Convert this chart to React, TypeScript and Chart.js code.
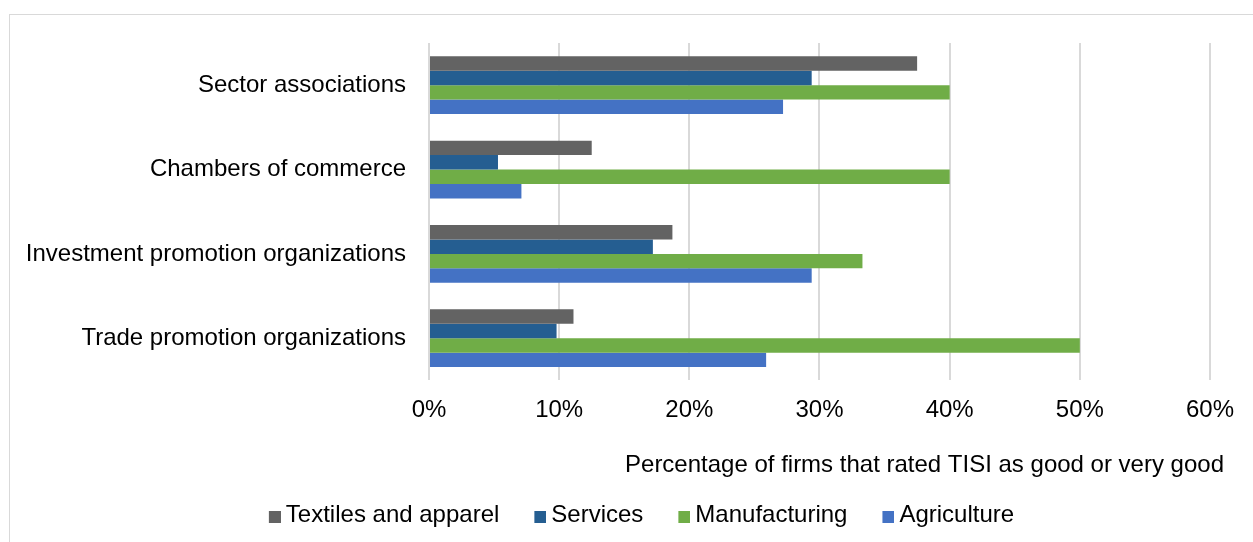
import React, { useEffect, useRef } from "react";
import { Chart, registerables } from "chart.js";

Chart.register(...registerables);

const categories = [
  "Sector associations",
  "Chambers of commerce",
  "Investment promotion organizations",
  "Trade promotion organizations",
];
const seriesNames = ["Textiles and apparel", "Services", "Manufacturing", "Agriculture"];
const textiles = [0.375, 0.125, 0.187, 0.111];
const services = [0.294, 0.053, 0.172, 0.098];
const manufacturing = [0.4, 0.4, 0.333, 0.5];
const agriculture = [0.272, 0.071, 0.294, 0.259];
const seriesColors = ["#636363", "#255e91", "#70ad47", "#4472c4"];
const xAxisTitle = "Percentage of firms that rated TISI as good or very good";
const xMin = 0;
const xMaxTick = 0.6;
const xStep = 0.1;

const FONT = "'Liberation Sans', Arial, sans-serif";

function makeSwatch(color: string): HTMLCanvasElement {
  const c = document.createElement("canvas");
  c.width = 15;
  c.height = 16;
  const ctx = c.getContext("2d");
  if (ctx) {
    ctx.fillStyle = color;
    ctx.fillRect(3, 4, 12, 12);
  }
  return c;
}

const legendShift = {
  id: "legendShift",
  afterLayout(chart: any) {
    const lg = chart.legend;
    if (lg) {
      lg.left += 19;
      lg.right += 19;
    }
  },
};

export default function App() {
  const ref = useRef<HTMLCanvasElement | null>(null);

  useEffect(() => {
    if (!ref.current) return;
    const values = [textiles, services, manufacturing, agriculture];
    const swatches = seriesColors.map(makeSwatch);
    const chart = new Chart(ref.current, {
      type: "bar",
      data: {
        labels: categories,
        datasets: seriesNames.map((name, i) => ({
          label: name,
          data: values[i],
          backgroundColor: seriesColors[i],
          borderWidth: 0,
          categoryPercentage: 0.685,
          barPercentage: 1,
        })),
      },
      plugins: [legendShift],
      options: {
        indexAxis: "y",
        responsive: false,
        animation: false,
        layout: { padding: { top: 43, left: 25, right: 29, bottom: 5 } },
        plugins: {
          tooltip: { enabled: false },
          legend: {
            position: "bottom",
            align: "center",
            labels: {
              usePointStyle: true,
              pointStyleWidth: 1,
              boxHeight: 12,
              padding: 39,
              color: "#000",
              font: { family: FONT, size: 24 },
              generateLabels: (ch: any) =>
                ch.data.datasets.map((ds: any, i: number) => ({
                  text: ds.label,
                  fillStyle: seriesColors[i],
                  strokeStyle: seriesColors[i],
                  lineWidth: 0,
                  pointStyle: swatches[i],
                  fontColor: "#000",
                  hidden: false,
                  datasetIndex: i,
                })),
            },
          },
        },
        scales: {
          x: {
            type: "linear",
            min: xMin,
            max: 0.61076,
            grid: { color: "#d9d9d9", lineWidth: 2, drawTicks: false },
            border: { display: false },
            ticks: {
              stepSize: xStep,
              includeBounds: false,
              padding: 16,
              color: "#000",
              font: { family: FONT, size: 24 },
              callback: (v: any) => Math.round(Number(v) * 100) + "%",
            },
            afterBuildTicks: (axis: any) => {
              axis.ticks = axis.ticks.filter((t: any) => t.value <= xMaxTick + 1e-9);
            },
            title: {
              display: true,
              text: xAxisTitle,
              align: "end",
              color: "#000",
              font: { family: FONT, size: 24 },
              padding: { top: 10, bottom: -16 },
            },
          },
          y: {
            grid: { display: false, drawTicks: false },
            border: { display: false },
            ticks: {
              padding: 23,
              color: "#000",
              font: { family: FONT, size: 24 },
            },
            afterFit: (scale: any) => {
              scale.width = 429 - 25;
            },
          },
        },
      },
    });
    return () => chart.destroy();
  }, []);

  return (
    <div
      style={{
        position: "fixed",
        left: 0,
        top: 0,
        width: 1253,
        height: 542,
        background: "#fff",
        overflow: "hidden",
      }}
    >
      <div
        style={{
          position: "absolute",
          left: 9,
          top: 14,
          width: 1300,
          height: 600,
          border: "1px solid #d9d9d9",
          boxSizing: "border-box",
        }}
      />
      <canvas
        ref={ref}
        width={1253}
        height={542}
        style={{ position: "absolute", left: 0, top: 0, width: 1253, height: 542 }}
      />
    </div>
  );
}
